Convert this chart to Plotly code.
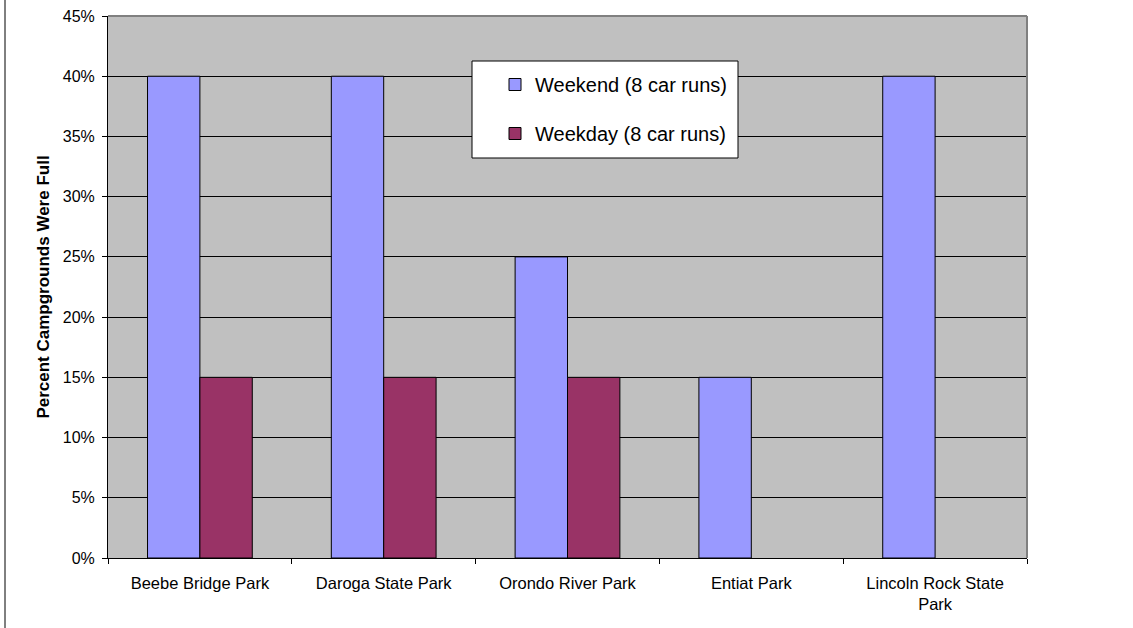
import plotly.graph_objects as go

categories = ["Beebe Bridge Park", "Daroga State Park", "Orondo River Park", "Entiat Park", "Lincoln Rock State<br>Park"]
weekend = [0.40, 0.40, 0.25, 0.15, 0.40]
weekday = [0.15, 0.15, 0.15, None, None]
series_names = ["Weekend (8 car runs)", "Weekday (8 car runs)"]
y_ticks = [0, 0.05, 0.10, 0.15, 0.20, 0.25, 0.30, 0.35, 0.40, 0.45]

L, R, T, B = 108, 106, 16, 70
W, H = 1133, 628
PW, PH = W - L - R, H - T - B


def px(xp):
    return (xp - L) / PW


def py(yp):
    return (H - B - yp) / PH


fig = go.Figure()
fig.add_trace(go.Bar(x=categories, y=weekend, name=series_names[0], legendgroup="a",
                     marker=dict(color="#9999FF", line=dict(color="black", width=1))))
fig.add_trace(go.Bar(x=categories, y=weekday, name=series_names[1], legendgroup="b",
                     marker=dict(color="#993366", line=dict(color="black", width=1))))

fig.update_layout(
    width=W, height=H,
    margin=dict(l=L, r=R, t=T, b=B, pad=0, autoexpand=False),
    paper_bgcolor="white", plot_bgcolor="#C0C0C0",
    barmode="group", bargap=0.43, bargroupgap=0,
    font=dict(family="Arial, Liberation Sans, sans-serif", size=16, color="black"),
    showlegend=True,
    legend=dict(x=px(468), y=py(65), xanchor="left", yanchor="top",
                bgcolor="rgba(0,0,0,0)", borderwidth=0,
                font=dict(size=20), traceorder="grouped", tracegroupgap=20,
                indentation=27, itemwidth=30),
    xaxis=dict(showline=True, linecolor="black", linewidth=1, ticks="outside", ticklen=5,
               tickcolor="black", tickson="boundaries", showgrid=False, automargin=False,
               tickfont=dict(size=16.5), ticklabelstandoff=10),
    yaxis=dict(range=[0, 0.45], tickvals=y_ticks, tickformat=".0%", showline=True,
               linecolor="black", linewidth=1, ticks="outside", ticklen=5, tickcolor="black",
               showgrid=True, gridcolor="black", gridwidth=1, zeroline=False, automargin=False,
               tickfont=dict(size=16), ticklabelstandoff=4,
               title=dict(text="<b>Percent Campgrounds Were Full</b>", font=dict(size=17), standoff=8)),
)

fig.add_shape(type="line", xref="paper", yref="paper", x0=0, x1=1, y0=1, y1=1,
              line=dict(color="#808080", width=2))
fig.add_shape(type="line", xref="paper", yref="paper", x0=1, x1=1, y0=0, y1=1,
              line=dict(color="#808080", width=2))
fig.add_shape(type="line", xref="paper", yref="paper", x0=px(5), x1=px(5),
              y0=py(H), y1=py(0), line=dict(color="black", width=1))
fig.add_shape(type="rect", xref="paper", yref="paper", layer="above",
              x0=px(472), x1=px(738), y0=py(158), y1=py(61),
              fillcolor="white", line=dict(color="black", width=1))

fig.write_html("out.html", config={"displayModeBar": False},
               post_script="document.body.style.margin='0';document.body.style.overflow='hidden';")
